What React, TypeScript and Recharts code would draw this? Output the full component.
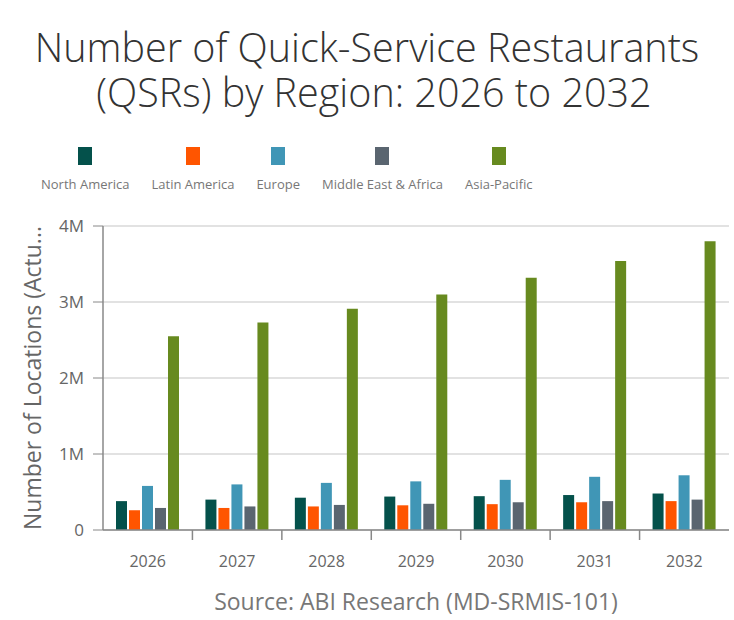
import React from 'react';
import { BarChart, Bar, XAxis, YAxis, CartesianGrid } from 'recharts';

const years = ['2026', '2027', '2028', '2029', '2030', '2031', '2032'];
const northAmerica = [380000, 400000, 425000, 440000, 445000, 460000, 480000];
const latinAmerica = [260000, 290000, 310000, 325000, 340000, 365000, 380000];
const europe = [580000, 600000, 620000, 640000, 660000, 700000, 720000];
const middleEastAfrica = [290000, 310000, 330000, 345000, 365000, 380000, 400000];
const asiaPacific = [2550000, 2730000, 2910000, 3100000, 3320000, 3540000, 3800000];
const yTicks = [0, 1000000, 2000000, 3000000, 4000000];

const series = [
  { key: 'na', name: 'North America', color: '#04514b', values: northAmerica },
  { key: 'la', name: 'Latin America', color: '#ff5500', values: latinAmerica },
  { key: 'eu', name: 'Europe', color: '#4096b6', values: europe },
  { key: 'mea', name: 'Middle East & Africa', color: '#5a6570', values: middleEastAfrica },
  { key: 'ap', name: 'Asia-Pacific', color: '#678a1f', values: asiaPacific },
];

const data = years.map((year, i) => {
  const row: Record<string, string | number> = { year };
  series.forEach(s => { row[s.key] = s.values[i]; });
  return row;
});

const FONT = '"Open Sans", "Segoe UI", sans-serif';
const PLOT_LEFT = 103;
const PLOT_RIGHT = 729;
const BAND = (PLOT_RIGHT - PLOT_LEFT) / years.length;

const formatY = (v: number) => (v === 0 ? '0' : `${v / 1000000}M`);

// year label under each group, plus a tick mark on the boundary to its right
const YearTick = (props: any) => {
  const { x, y, payload, index } = props;
  return (
    <g>
      {index < years.length - 1 && (
        <line x1={x + BAND / 2} x2={x + BAND / 2} y1={530} y2={540} stroke="#888" strokeWidth={1.5} />
      )}
      <text x={x} y={y + 35} textAnchor="middle" fill="#666" fontSize={16} fontFamily={FONT}>
        {payload.value}
      </text>
    </g>
  );
};

const LegendBlock = () => (
  <div style={{ position: 'absolute', left: 0, top: 147, display: 'flex', gap: 22, paddingLeft: 41 }}>
    {series.map(s => (
      <div key={s.key} style={{ display: 'flex', flexDirection: 'column', alignItems: 'center' }}>
        <div style={{ width: 14, height: 18, background: s.color }} />
        <div style={{ color: '#777', fontSize: 13, marginTop: 10, whiteSpace: 'nowrap' }}>{s.name}</div>
      </div>
    ))}
  </div>
);

const titleLine: React.CSSProperties = {
  position: 'absolute', left: 0, width: 734, textAlign: 'center',
  fontSize: 39.5, fontWeight: 300, lineHeight: '44px', color: '#333',
};

const App: React.FC = () => {
  return (
    <div style={{ position: 'absolute', left: 0, top: 0, width: 734, height: 620, background: '#fff', fontFamily: FONT }}>
      <div style={{ ...titleLine, top: 25 }}>Number of Quick-Service Restaurants</div>
      <div style={{ ...titleLine, top: 70, left: 7 }}>(QSRs) by Region: 2026 to 2032</div>

      <LegendBlock />

      <div style={{ position: 'absolute', left: 0, top: 0 }}>
        <BarChart
          width={734}
          height={620}
          data={data}
          margin={{ top: 226, right: 734 - PLOT_RIGHT, bottom: 50, left: 30 }}
          barSize={11}
          barGap={2}
        >
          <CartesianGrid vertical={false} stroke="#d8d8d8" strokeWidth={1.5} />
          <XAxis
            dataKey="year"
            height={40}
            tickLine={false}
            tickSize={0}
            tick={<YearTick />}
            axisLine={{ stroke: '#888', strokeWidth: 1.5 }}
            interval={0}
          />
          <YAxis
            width={PLOT_LEFT - 30}
            domain={[0, 4000000]}
            ticks={yTicks}
            tickFormatter={formatY}
            tickSize={10}
            tickMargin={9}
            tick={{ fill: '#666', fontSize: 17, fontFamily: FONT }}
            tickLine={{ stroke: '#888' }}
            axisLine={{ stroke: '#888', strokeWidth: 1.5 }}
            label={{
              value: 'Number of Locations (Actu...',
              angle: -90,
              position: 'insideLeft',
              offset: 3,
              style: { textAnchor: 'middle', fill: '#666', fontSize: 23, fontFamily: FONT },
            }}
          />
          {series.map(s => (
            <Bar key={s.key} dataKey={s.key} name={s.name} fill={s.color} isAnimationActive={false} />
          ))}
        </BarChart>
      </div>

      <div
        style={{
          position: 'absolute', left: PLOT_LEFT, width: PLOT_RIGHT - PLOT_LEFT, top: 585,
          textAlign: 'center', fontSize: 23, color: '#777',
        }}
      >
        Source: ABI Research (MD-SRMIS-101)
      </div>
    </div>
  );
};

export default App;
